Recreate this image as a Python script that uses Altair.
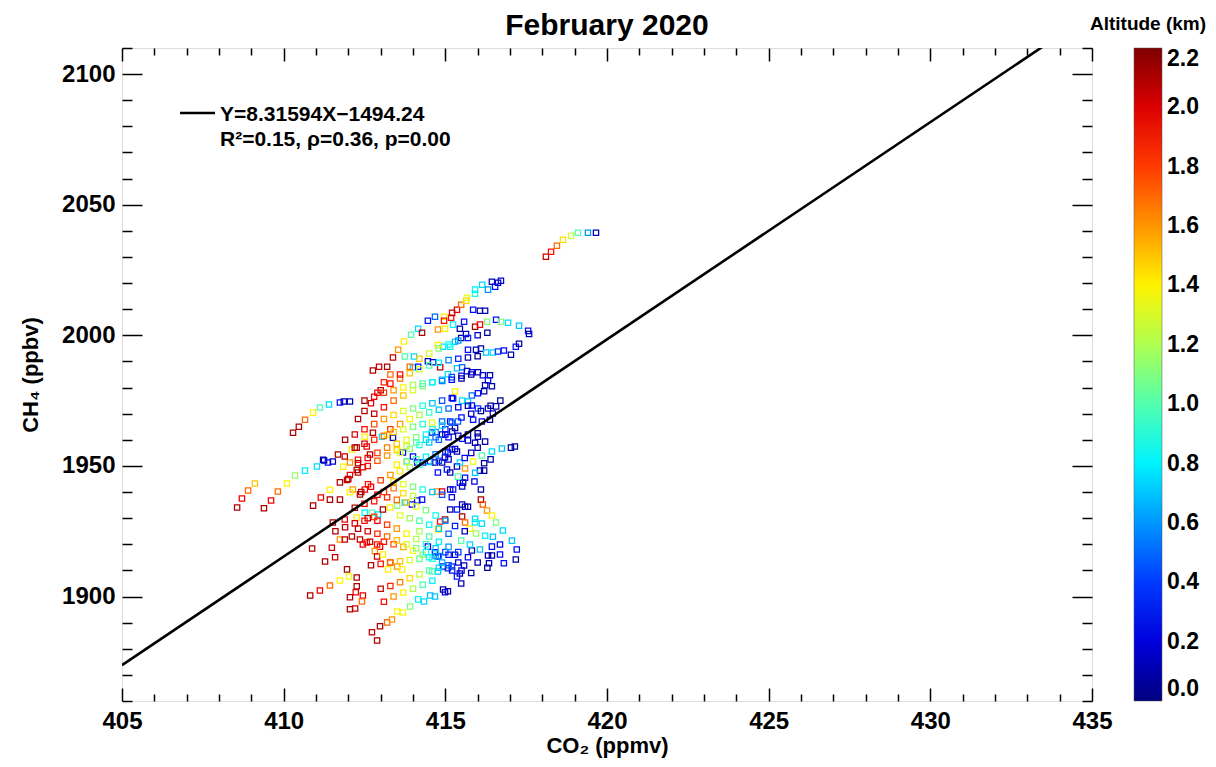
import altair as alt
import pandas as pd

FONT = "Liberation Sans"
TITLE = "February 2020"
X_TITLE = "CO\u2082 (ppmv)"
Y_TITLE = "CH\u2084 (ppbv)"
CBAR_TITLE = "Altitude (km)"
FIT_LABEL = "Y=8.31594X\u22121494.24"
STATS_LABEL = "R\u00b2=0.15, \u03c1=0.36, p=0.00"
SLOPE = 8.31594
INTERCEPT = -1494.24

X_DOMAIN = [405, 435]
Y_DOMAIN = [1860, 2110]
X_MAJOR = [405, 410, 415, 420, 425, 430, 435]
X_MINOR = [405, 406, 407, 408, 409, 410, 411, 412, 413, 414, 415, 416, 417, 418, 419, 420,
           421, 422, 423, 424, 425, 426, 427, 428, 429, 430, 431, 432, 433, 434, 435]
Y_MAJOR = [1900, 1950, 2000, 2050, 2100]
Y_MINOR = [1860, 1870, 1880, 1890, 1900, 1910, 1920, 1930, 1940, 1950, 1960, 1970, 1980,
           1990, 2000, 2010, 2020, 2030, 2040, 2050, 2060, 2070, 2080, 2090, 2100, 2110]
ALT_DOMAIN = [0.0, 2.2]
ALT_TICKS = [0.0, 0.2, 0.4, 0.6, 0.8, 1.0, 1.2, 1.4, 1.6, 1.8, 2.0, 2.2]
JET = ["#00007f", "#0000ff", "#007fff", "#00ffff", "#7fff7f",
       "#ffff00", "#ff7f00", "#ff0000", "#7f0000"]

# profiles: (CO2 ppmv, CH4 ppbv, altitude km)
T01 = [(418.11,2030.1,2.05),(418.27,2032.0,1.9),(418.45,2034.3,1.7),(418.64,2036.6,1.45),(418.89,2038.1,1.25),(419.10,2039.3,1.0),(419.41,2039.3,0.6),(419.66,2039.3,0.15)]
T02 = [(414.96,2007.1,1.4),(415.18,2006.7,1.9),(415.21,2008.6,2.05),(415.36,2009.8,2.0),(415.49,2011.7,1.7),(415.64,2013.2,1.45),(415.67,2014.4,1.35),(415.92,2015.9,0.9),(415.92,2017.5,0.8),(416.14,2019.4,0.75),(416.32,2017.5,0.6),(416.44,2020.5,0.1),(416.54,2018.6,0.3),(416.63,2020.1,0.15),(416.72,2020.9,0.2),(415.86,2009.8,0.3),(416.07,2009.4,0.1),(416.23,2009.4,0.1)]
T03 = [(414.46,2005.6,0.3),(414.68,2007.1,0.5),(414.96,2005.6,1.9),(414.77,2002.2,1.6),(414.99,2002.5,1.4),(415.24,2004.1,0.8),(415.58,2005.2,0.3),(415.92,2003.3,2.1),(416.07,2004.1,1.95),(416.29,2005.2,1.1),(416.57,2006.0,0.3),(416.72,2005.2,1.1),(416.94,2004.8,0.75),(417.28,2003.7,0.7),(417.56,2001.7,0.3),(417.59,2000.5,0.1)]
T04 = [(415.45,2002.5,0.1),(415.64,2000.5,0.15),(415.49,1999.0,0.1),(415.30,1997.5,0.7),(415.15,1995.6,0.8),(414.93,1995.6,0.75),(414.77,1996.3,1.4)]
T05 = [(415.70,1994.5,0.3),(415.95,1994.5,0.1),(416.10,1994.9,0.1),(416.26,1993.4,0.7),(416.47,1993.4,0.75),(416.63,1993.8,0.4),(416.81,1994.2,0.3),(417.03,1992.6,0.1),(417.18,1995.6,0.3),(417.28,1996.8,0.1)]
T06 = [(414.46,1990.1,0.15),(414.62,1989.7,0.2),(414.84,1987.8,2.1),(415.08,1985.1,0.75),(415.36,1987.4,0.7),(415.52,1987.8,0.5),(415.67,1986.3,0.1),(415.82,1985.9,0.2),(416.01,1985.9,0.1),(416.16,1984.7,0.2),(416.38,1984.7,0.1),(416.32,1982.8,0.3),(416.23,1980.9,0.1),(416.44,1980.5,0.1),(416.20,1978.6,0.1),(416.01,1977.8,0.3),(415.82,1977.0,0.5)]
T07 = [(416.47,1970.1,0.1),(416.57,1972.8,0.1),(416.32,1972.0,0.2),(416.01,1972.0,0.4),(415.82,1973.1,0.3),(415.70,1974.7,0.7),(415.52,1975.0,0.75),(415.30,1978.5,1.4),(415.24,1975.8,0.3),(416.38,1967.7,0.1),(416.13,1967.0,0.2),(415.86,1967.7,0.3),(415.39,1967.0,0.5),(415.15,1967.0,0.3),(414.90,1967.0,0.5),(414.59,1966.6,1.3)]
T08 = [(417.15,1957.4,0.1),(417.03,1957.0,0.1),(416.75,1956.7,0.7),(416.44,1955.5,0.75),(416.13,1954.0,1.0),(415.86,1951.7,1.35),(415.61,1949.0,1.6),(416.01,1961.2,0.1),(416.23,1959.3,0.1),(415.92,1958.9,0.1),(415.70,1959.7,0.15),(415.52,1960.4,0.3),(416.20,1948.2,0.1),(416.07,1948.2,0.1),(415.92,1947.4,0.7),(415.61,1945.5,0.3),(415.55,1943.6,0.1),(415.52,1942.1,0.1)]
T09 = [(416.10,1937.1,2.1),(416.16,1935.2,1.75),(416.29,1932.9,1.6),(416.44,1931.0,1.4),(416.57,1928.3,1.1),(416.78,1925.3,0.75),(417.06,1921.4,0.7),(417.21,1918.0,0.3),(417.18,1914.2,0.1),(416.81,1912.7,0.3),(416.35,1912.7,0.1)]
T10 = [(415.52,1930.6,2.1),(415.61,1928.3,1.7),(415.76,1926.0,1.4),(415.95,1924.1,1.15),(416.23,1923.3,0.8),(416.47,1922.9,0.7),(416.69,1919.9,0.3),(416.44,1919.1,0.3),(416.07,1918.0,0.7),(415.82,1917.6,0.1),(415.76,1919.9,0.75),(415.49,1921.4,1.0),(415.92,1929.8,0.75),(415.92,1928.3,0.8),(416.13,1927.9,0.75),(416.32,1915.7,0.1),(416.44,1915.7,0.1),(416.69,1916.1,0.3)]
T11 = [(415.58,1911.9,0.1),(415.45,1908.8,0.1),(415.36,1907.7,0.3),(415.21,1910.0,0.3),(415.08,1910.8,0.35),(414.93,1911.5,0.3),(414.77,1909.6,0.7),(414.59,1909.6,1.0),(415.49,1905.0,0.1),(415.08,1902.0,0.1),(414.93,1902.7,0.1),(414.99,1901.6,0.2),(414.68,1900.0,0.7),(414.53,1900.4,0.7),(414.77,1915.3,0.3),(414.68,1916.9,0.3),(414.46,1919.1,0.3),(414.99,1929.5,2.1),(414.84,1928.7,1.9),(414.77,1925.7,1.4),(415.15,1933.3,0.1),(415.36,1933.3,0.3),(415.52,1935.2,0.1),(415.61,1934.4,0.1),(415.70,1934.4,0.1),(414.74,1940.2,1.6),(414.90,1940.2,2.0),(415.15,1941.0,0.1),(415.24,1941.0,0.3),(415.45,1943.6,0.3),(415.39,1945.9,1.0),(414.77,1947.5,0.3),(415.05,1948.6,0.3),(415.15,1947.5,0.1),(415.36,1949.8,0.15),(415.45,1951.3,0.75),(414.53,1951.7,0.2),(414.68,1951.3,0.1),(414.90,1951.3,0.1),(414.99,1953.2,0.2),(415.08,1955.1,0.1),(415.21,1956.3,0.3),(415.36,1955.5,0.1),(414.59,1962.8,0.3),(414.90,1962.0,0.1),(415.21,1963.2,0.1)]
T12 = [(410.82,1900.4,2.1),(411.12,1902.3,1.95),(411.43,1904.2,1.7),(411.74,1906.1,1.4),(412.02,1907.7,1.35),(412.89,1883.2,2.1),(412.73,1886.3,2.05),(412.98,1888.6,2.1),(413.20,1890.1,1.7),(413.35,1891.2,1.6),(413.51,1894.3,1.4),(413.69,1893.9,1.35),(413.91,1896.2,1.1),(414.16,1898.9,0.8),(414.34,1898.1,0.75)]
T13 = [(412.45,1900.4,2.0),(412.26,1903.9,2.1),(412.23,1901.6,1.95),(412.42,1898.1,1.7),(412.05,1899.7,2.1),(412.05,1895.1,2.1),(412.21,1895.4,2.05),(410.88,1918.4,2.1),(411.28,1913.4,2.1),(411.59,1915.0,2.05),(411.96,1910.4,2.1),(412.26,1907.3,2.1),(411.49,1918.7,2.05),(411.74,1921.8,1.6),(411.89,1921.8,2.05),(412.11,1923.0,2.1),(412.36,1921.8,2.05),(412.45,1919.9,1.95),(412.57,1920.7,1.9),(412.67,1921.0,2.05),(412.89,1919.9,1.9),(412.98,1919.1,1.95),(412.82,1917.4,1.6),(412.89,1915.3,2.05),(413.07,1916.1,1.4),(413.29,1913.0,1.7),(413.51,1911.5,1.6),(413.66,1910.4,1.4),(413.23,1910.4,1.4)]
T14 = [(411.89,1929.5,1.95),(411.52,1928.3,2.1),(412.26,1930.2,1.4),(412.51,1932.1,0.8),(412.73,1932.1,1.0),(412.92,1931.4,0.75),(413.07,1933.3,2.1),(413.29,1934.1,1.4),(413.51,1934.8,1.1),(413.75,1936.0,0.75),(413.97,1935.2,0.3),(414.13,1936.8,0.3),(414.28,1937.1,0.3)]
T15 = [(411.74,1943.7,2.1),(411.96,1944.6,2.05),(412.05,1946.5,1.95),(412.26,1948.4,2.1),(412.45,1949.5,2.0),(412.61,1943.0,1.9),(412.51,1941.0,1.95),(412.36,1939.1,2.1),(412.14,1941.0,1.6),(412.05,1939.9,1.4),(411.74,1937.1,2.1),(411.43,1937.1,2.1),(411.15,1937.9,1.95),(410.91,1934.8,2.1),(411.43,1940.9,1.4),(411.84,1949.7,1.4),(412.05,1951.3,1.6),(412.30,1952.4,1.9),(412.67,1954.4,2.1)]
T16 = [(410.29,1962.7,2.1),(411.22,1952.4,0.1),(411.68,1954.4,2.1),(411.89,1953.6,2.05),(412.11,1956.3,1.4),(412.26,1957.0,2.05),(412.57,1957.4,1.95),(412.51,1961.2,1.4),(412.76,1962.7,2.1),(413.04,1961.2,0.75),(413.20,1962.0,1.4),(413.38,1960.8,0.1),(413.51,1956.3,1.4),(413.69,1955.1,0.3),(414.00,1953.6,0.3),(413.81,1951.7,0.75),(414.13,1951.3,0.3),(414.31,1951.3,0.3)]
T17 = [(409.39,1933.8,2.1),(409.61,1936.8,1.95),(409.82,1940.2,1.7),(410.10,1943.3,1.4),(410.35,1946.3,1.15),(410.66,1948.2,0.8),(411.03,1949.8,0.75),(411.25,1952.1,0.1),(411.37,1951.3,0.3),(411.52,1951.7,0.15)]
T18 = [(408.56,1934.1,2.1),(408.71,1937.5,1.95),(408.90,1940.6,1.7),(409.11,1943.3,1.5)]
T19 = [(410.47,1965.0,2.1),(410.66,1967.7,1.7),(410.91,1970.4,1.4),(411.12,1972.4,1.0),(411.40,1973.5,0.75),(411.74,1974.3,0.3),(411.86,1974.7,0.1),(412.05,1974.7,0.1)]
T20 = [(412.76,1986.5,2.1),(412.95,1988.0,2.05),(413.20,1988.0,2.1),(413.38,1991.5,2.05),(413.54,1994.5,1.6),(413.72,1997.6,1.4),(413.94,2000.2,1.0),(414.16,2002.5,0.75),(414.28,2001.0,2.1),(413.75,1991.9,1.0),(414.03,1991.9,0.75),(414.00,1987.7,0.75),(414.16,1988.0,0.3)]
K01 = [(411.9,1960.0,2.1),(412.2,1962.0,2.0),(412.5,1964.0,1.9),(412.8,1966.0,1.75),(413.1,1968.0,1.6),(413.4,1969.5,1.45),(413.7,1971.0,1.3),(414.0,1972.0,1.1),(414.3,1973.0,0.9),(414.6,1974.0,0.7),(414.9,1975.0,0.45),(415.2,1976.0,0.2)]
K02 = [(412.3,1951.0,2.1),(412.6,1953.0,1.95),(412.9,1955.0,1.8),(413.2,1957.0,1.65),(413.5,1958.5,1.5),(413.8,1960.0,1.3),(414.1,1961.0,1.1),(414.4,1962.0,0.85),(414.7,1963.0,0.6),(415.0,1964.0,0.35),(415.3,1964.5,0.1)]
K03 = [(412.8,1970.0,2.05),(413.1,1972.5,1.9),(413.4,1975.0,1.7),(413.7,1977.0,1.5),(414.0,1979.0,1.3),(414.3,1980.5,1.1),(414.6,1982.0,0.9),(414.9,1983.0,0.7),(415.2,1984.0,0.45),(415.5,1984.5,0.25),(415.8,1985.0,0.1)]
K04 = [(412.4,1940.0,2.1),(412.7,1942.0,1.95),(413.0,1944.5,1.8),(413.3,1946.5,1.6),(413.6,1948.0,1.4),(413.9,1949.5,1.2),(414.2,1950.5,0.95),(414.5,1951.5,0.7),(414.8,1952.0,0.4),(415.1,1952.5,0.15)]
K05 = [(413.0,1979.0,2.1),(413.3,1981.5,1.9),(413.6,1983.5,1.7),(413.9,1985.5,1.5),(414.2,1987.0,1.25),(414.5,1988.5,1.0),(414.8,1989.5,0.8),(415.1,1990.5,0.55),(415.4,1991.0,0.35),(415.7,1991.5,0.15),(416.0,1992.0,0.05)]
K06 = [(413.3,1964.0,1.8),(413.6,1966.0,1.6),(413.9,1968.0,1.4),(414.2,1969.5,1.2),(414.5,1970.5,0.95),(414.8,1971.5,0.7),(415.1,1972.0,0.5),(415.4,1972.5,0.25),(415.7,1973.0,0.1)]
K07 = [(412.6,1930.0,2.1),(412.9,1929.0,1.95),(413.2,1927.5,1.8),(413.5,1926.0,1.6),(413.8,1924.0,1.4),(414.1,1922.0,1.2),(414.4,1920.0,0.95),(414.7,1918.5,0.7),(415.0,1917.0,0.45),(415.3,1916.0,0.2)]
K08 = [(412.9,1939.0,2.0),(413.2,1938.0,1.85),(413.5,1937.0,1.7),(413.8,1936.0,1.5),(414.1,1934.5,1.3),(414.4,1933.0,1.1),(414.7,1931.0,0.85),(415.0,1929.0,0.6),(415.3,1927.0,0.35),(415.6,1925.0,0.15)]
K09 = [(412.7,1912.0,2.1),(413.0,1912.5,1.9),(413.3,1913.0,1.7),(413.6,1913.5,1.5),(413.9,1914.0,1.3),(414.2,1914.5,1.05),(414.5,1915.0,0.8),(414.8,1915.5,0.55),(415.1,1916.0,0.3)]
K10 = [(413.0,1903.0,2.05),(413.3,1904.0,1.85),(413.6,1905.5,1.65),(413.9,1907.0,1.45),(414.2,1908.5,1.25),(414.5,1910.0,1.0),(414.8,1911.0,0.75),(415.1,1912.0,0.5),(415.4,1913.0,0.2)]
K11 = [(413.4,1944.0,1.5),(413.7,1943.0,1.3),(414.0,1942.0,1.1),(414.3,1941.0,0.9),(414.6,1940.0,0.7),(414.9,1939.0,0.45),(415.2,1938.0,0.2)]
K12 = [(412.2,1957.0,2.1),(412.5,1958.5,2.0),(412.8,1960.0,1.85),(413.1,1961.5,1.7),(413.4,1963.0,1.5),(413.7,1964.0,1.3),(414.0,1965.0,1.1),(414.3,1966.0,0.9)]
K14 = [(413.6,1955.0,1.3),(413.9,1956.5,1.1),(414.2,1958.0,0.9),(414.5,1959.0,0.7),(414.8,1960.0,0.5),(415.1,1961.0,0.3),(415.4,1961.5,0.15),(415.7,1962.0,0.1),(416.0,1962.5,0.05)]
K17 = [(412.0,1945.0,2.1),(412.3,1947.5,2.05),(412.6,1950.0,1.9),(412.9,1952.0,1.75),(413.2,1954.0,1.6),(413.5,1956.0,1.45),(413.8,1957.5,1.25),(414.1,1959.0,1.0),(414.4,1960.0,0.75),(414.7,1961.0,0.5),(415.0,1962.0,0.25)]
K18 = [(412.5,1975.0,2.1),(412.8,1976.5,1.95),(413.1,1978.0,1.8),(413.4,1979.0,1.6),(413.7,1980.0,1.4),(414.0,1981.0,1.2),(414.3,1981.5,1.0),(414.6,1982.0,0.8),(414.9,1982.5,0.55),(415.2,1983.0,0.3),(415.5,1983.5,0.1)]
K19 = [(413.1,1921.0,1.9),(413.4,1920.0,1.75),(413.7,1919.0,1.55),(414.0,1917.5,1.35),(414.3,1916.0,1.15),(414.6,1914.5,0.9),(414.9,1913.0,0.65),(415.2,1911.5,0.4),(415.5,1910.0,0.2),(415.8,1909.0,0.1)]
K20 = [(412.3,1926.0,2.1),(412.6,1925.0,2.0),(412.9,1924.0,1.85),(413.2,1923.0,1.7),(413.5,1921.5,1.5),(413.8,1920.0,1.3),(414.1,1918.5,1.1),(414.4,1917.0,0.85),(414.7,1915.5,0.6)]
K21 = [(413.6,1985.0,1.9),(413.9,1988.0,1.7),(414.2,1991.0,1.5),(414.5,1993.0,1.3),(414.8,1995.0,1.1),(415.1,1996.5,0.85),(415.4,1998.0,0.6),(415.7,1999.0,0.35),(416.0,2000.0,0.15),(416.3,2001.0,0.05)]
K22 = [(414.6,1964.0,0.9),(414.9,1965.5,0.7),(415.2,1966.5,0.5),(415.5,1968.5,0.3),(415.8,1970.0,0.15),(416.1,1971.0,0.1),(416.4,1973.0,0.05),(416.7,1975.0,0.05)]
K23 = [(411.6,1925.0,2.1),(411.9,1926.5,2.05),(412.2,1928.0,2.0),(412.5,1929.0,1.9),(412.8,1930.5,1.8)]
K24 = [(413.5,1950.5,1.4),(413.8,1951.5,1.2),(414.1,1952.5,1.0),(414.4,1953.5,0.8),(414.7,1954.5,0.55),(415.0,1955.5,0.35),(415.3,1956.5,0.15)]
K25 = [(414.2,1925.0,1.2),(414.5,1923.0,1.0),(414.8,1921.0,0.8),(415.1,1919.0,0.6),(415.4,1917.0,0.4),(415.7,1915.0,0.25),(416.0,1913.0,0.1),(416.3,1911.0,0.05)]
K26 = [(412.2,1934.0,2.1),(412.5,1935.5,2.0),(412.8,1936.5,1.9),(413.1,1940.0,1.8),(413.4,1941.5,1.65),(413.7,1939.5,1.45),(414.0,1938.5,1.25)]
K27 = [(412.3,1968.0,2.1),(412.5,1971.0,2.05),(412.7,1974.0,2.0),(412.9,1978.0,1.95),(413.1,1982.0,1.85),(413.3,1985.0,1.7)]
K28 = [(415.6,1953.0,0.3),(415.8,1955.0,0.15),(416.0,1957.0,0.1),(416.2,1951.0,0.05),(416.4,1952.5,0.1),(415.9,1944.0,0.2),(416.1,1941.0,0.1)]
K29 = [(413.6,1931.0,1.3),(413.9,1930.0,1.15),(414.2,1929.0,1.0),(414.5,1927.5,0.85),(414.8,1926.0,0.7),(415.1,1924.0,0.5)]
K30 = [(413.1,1898.0,1.9),(413.4,1900.0,1.6),(413.7,1901.5,1.4),(414.0,1903.0,1.2),(414.3,1904.5,1.0),(414.6,1906.0,0.8)]

PROFILES = [T01, T02, T03, T04, T05, T06, T07, T08, T09, T10, T11, T12, T13, T14, T15,
            T16, T17, T18, T19, T20, K01, K02, K03, K04, K05, K06, K07, K08, K09, K10,
            K11, K12, K14, K17, K18, K19, K20, K21, K22, K23, K24, K25, K26, K27, K28,
            K29, K30]

rows = [{"co2": c, "ch4": m, "alt": a} for prof in PROFILES for (c, m, a) in prof]
df = pd.DataFrame(rows)
line_df = pd.DataFrame({"co2": X_DOMAIN})
one = pd.DataFrame({"k": [0]})

W, H = 970, 653

xs = alt.Scale(domain=X_DOMAIN, nice=False, zero=False)
ys = alt.Scale(domain=Y_DOMAIN, nice=False, zero=False)


def tick_axis(orient, values, mod, major, minor, offset):
    return alt.Axis(
        orient=orient, offset=offset, values=values, labels=False, domain=False,
        grid=False, ticks=True, tickColor="black", tickWidth=1.5,
        tickSize={"condition": {"test": f"datum.value % {mod} === 0", "value": major},
                  "value": minor},
        title="",
    )


x_label_axis = alt.Axis(
    orient="bottom", values=X_MAJOR, ticks=False, tickSize=0, domain=False, grid=False,
    labelFontSize=24, labelFont=FONT, labelFontWeight="bold", labelColor="black",
    labelPadding=8, labelFlush=False, labelOverlap=False, format="d",
    title=X_TITLE, titleFont=FONT, titleFontSize=22, titleFontWeight="bold",
    titleColor="black", titlePadding=2,
)
y_label_axis = alt.Axis(
    orient="left", values=Y_MAJOR, ticks=False, tickSize=0, domain=False, grid=False,
    labelFontSize=24, labelFont=FONT, labelFontWeight="bold", labelColor="black",
    labelPadding=7, labelOverlap=False, format="d",
    title=Y_TITLE, titleFont=FONT, titleFontSize=22, titleFontWeight="bold",
    titleColor="black", titlePadding=19,
)

points = alt.Chart(df).mark_square(filled=False, size=28, strokeWidth=1.25, opacity=1).encode(
    x=alt.X("co2:Q", scale=xs, axis=x_label_axis),
    y=alt.Y("ch4:Q", scale=ys, axis=y_label_axis),
    color=alt.Color(
        "alt:Q",
        scale=alt.Scale(domain=ALT_DOMAIN, range=JET, interpolate="rgb"),
        legend=alt.Legend(
            title=None, orient="none", legendX=1012, legendY=0, direction="vertical",
            gradientLength=H, gradientThickness=28, values=ALT_TICKS, format=".1f",
            labelFontSize=23, labelFont=FONT, labelFontWeight="bold", labelColor="black",
            labelOffset=5, labelOverlap=False, gradientStrokeColor="#555555",
            gradientStrokeWidth=0.5,
        ),
    ),
)

fit = f"{SLOPE}*datum.co2 + ({INTERCEPT})"

line = alt.Chart(line_df).transform_calculate(ch4=fit).mark_line(
    color="black", strokeWidth=2.6, clip=True
).encode(
    x=alt.X("co2:Q", scale=xs, axis=tick_axis("top", X_MINOR, 5, 13, 7, -H)),
    y=alt.Y("ch4:Q", scale=ys, axis=tick_axis("right", Y_MINOR, 50, 20, 10, -W)),
)

ticks2 = alt.Chart(line_df).transform_calculate(ch4=fit).mark_point(
    opacity=0, clip=True
).encode(
    x=alt.X("co2:Q", scale=xs, axis=tick_axis("bottom", X_MINOR, 5, 13, 7, -H)),
    y=alt.Y("ch4:Q", scale=ys, axis=tick_axis("left", Y_MINOR, 50, 20, 10, -W)),
)

sample = alt.Chart(one).mark_rule(color="black", strokeWidth=2.6).encode(
    x=alt.value(58), x2=alt.value(93), y=alt.value(65)
)
txt_style = dict(align="left", baseline="middle", font=FONT, fontSize=21,
                 fontWeight="bold", color="black")
t1 = alt.Chart(one).mark_text(**txt_style).encode(
    x=alt.value(98), y=alt.value(67), text=alt.value(FIT_LABEL))
t2 = alt.Chart(one).mark_text(**txt_style).encode(
    x=alt.value(98), y=alt.value(92), text=alt.value(STATS_LABEL))
cbt = alt.Chart(one).mark_text(
    align="center", baseline="middle", font=FONT, fontSize=19, fontWeight="bold",
    color="black"
).encode(x=alt.value(1026), y=alt.value(-24), text=alt.value(CBAR_TITLE))
ttl = alt.Chart(one).mark_text(
    align="center", baseline="alphabetic", font=FONT, fontSize=30, fontWeight="bold",
    color="black"
).encode(x=alt.value(W / 2), y=alt.value(-13), text=alt.value(TITLE))

chart = alt.layer(points, line, ticks2, sample, t1, t2, cbt, ttl).resolve_axis(
    x="independent", y="independent"
).properties(
    width=W, height=H,
    padding={"left": 114, "top": 40, "right": 116, "bottom": 58},
    autosize=alt.AutoSizeParams(type="none"),
).configure_view(stroke="black", strokeWidth=2).configure(background="white")

chart.save("out.html", embed_options={"renderer": "svg", "actions": False})
